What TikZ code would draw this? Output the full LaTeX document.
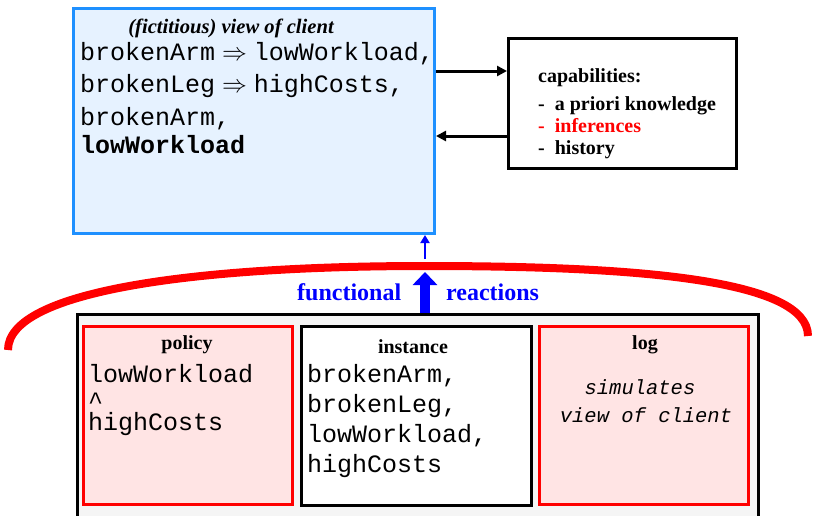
\documentclass[tikz,border=0pt]{standalone}
\usepackage{fontspec}
\setmainfont{Liberation Serif}
\setmonofont{Liberation Mono}
\usetikzlibrary{arrows.meta}
\definecolor{viewblue}{HTML}{1E90FF}
\definecolor{viewfill}{HTML}{E6F2FF}
\definecolor{pinkfill}{HTML}{FFE4E4}
\definecolor{outerfill}{HTML}{F5F5F5}
\definecolor{myred}{HTML}{FF0000}
\definecolor{myblue}{HTML}{0000FF}
\begin{document}
\begin{tikzpicture}[x=1pt,y=-1pt,
  box/.style={line width=3pt, anchor=north west, inner sep=0pt},
  mono/.style={font=\fontsize{25}{30}\selectfont\ttfamily, inner sep=0pt, anchor=base west},
  monoit/.style={font=\fontsize{20.5}{24}\selectfont\ttfamily\itshape, inner sep=0pt, anchor=base},
  head/.style={font=\fontsize{20}{22}\selectfont\bfseries, inner sep=0pt, anchor=base},
  captext/.style={font=\fontsize{20}{22}\selectfont\bfseries, inner sep=0pt, anchor=base west},
  blk/.style={line width=3pt, -{Triangle[width=10pt,length=10pt]}},
  bluebig/.style={myblue, line width=10pt, -{Triangle[width=24pt,length=13pt]}},
  bluesmall/.style={myblue, line width=2.5pt, -{Triangle[width=9pt,length=8pt]}},
  reach/.style={font=\fontsize{24}{28}\selectfont\bfseries, text=myblue, inner sep=0pt, anchor=base west}]
\clip (0,0) rectangle (815,515);
\fill[white] (0,0) rectangle (815,515);

% top: view of client
\node[box, draw=viewblue, fill=viewfill, minimum width=361, minimum height=225] (view) at (72,7) {};
\node[font=\fontsize{20.6}{22}\selectfont\bfseries\itshape, inner sep=0pt, anchor=base] (vtitle) at (231,33) {(fictitious) view of client};
\node[mono] (v1) at (80,60) {brokenArm\;$\Rightarrow$\;lowWorkload,};
\node[mono] (v2) at (80,92) {brokenLeg\;$\Rightarrow$\;highCosts,};
\node[mono] (v3) at (80,125) {brokenArm,};
\node[mono, font=\fontsize{25}{30}\selectfont\ttfamily\bfseries] (v4) at (80,153) {lowWorkload};

% capabilities
\node[box, draw=black, fill=white, minimum width=228, minimum height=130] (capbox) at (507,37) {};
\node[captext] (c0) at (538,82) {capabilities:};
\node[captext] (c1) at (538,110) {-~~a priori knowledge};
\node[captext, text=myred] (c2) at (538,132) {-~~inferences};
\node[captext] (c3) at (538,154) {-~~history};

\coordinate (r1) at (0,71);
\coordinate (r2) at (0,136);
\draw[blk] (view.east |- r1) -- (capbox.west |- r1);
\draw[blk] (capbox.west |- r2) -- (view.east |- r2);

% red arc
\draw[myred, line width=8pt] (8,350) .. controls (8,290) and (200,266) .. (425,266)
  .. controls (640,266) and (808,280) .. (808,336);

% bottom
\node[box, draw=black, fill=outerfill, minimum width=681, minimum height=230] (outer) at (76,313) {};
\node[box, draw=myred, fill=pinkfill, minimum width=209, minimum height=178] (policy) at (82,325) {};
\node[box, draw=black, fill=white, minimum width=230, minimum height=179] (inst) at (300,325) {};
\node[box, draw=myred, fill=pinkfill, minimum width=209, minimum height=178] (log) at (538,325) {};

\node[head] (ph) at (187,349) {policy};
\node[mono, font=\fontsize{25}{24}\selectfont\ttfamily, text width=190, align=left] (ptext) at (88,382)
  {lowWorkload\\[3pt]\textasciicircum\\[-3pt]highCosts};

\node[head] (ih) at (413,353) {instance};
\node[mono] (i1) at (307,382) {brokenArm,};
\node[mono] (i2) at (307,412) {brokenLeg,};
\node[mono] (i3) at (307,442) {lowWorkload,};
\node[mono] (i4) at (307,472) {highCosts};

\node[head] (lh) at (645,349) {log};
\node[monoit] (l1) at (640,394) {simulates};
\node[monoit] (l2) at (646,422) {view of client};

% blue arrows
\coordinate (ax) at (425,0);
\coordinate (bigtip) at (425,272);
\coordinate (smallbase) at (425,259);
\draw[bluebig] (outer.north -| ax) -- (bigtip);
\draw[bluesmall] (smallbase) -- (view.south -| ax);
\node[reach] (fun) at (297,300) {functional};
\node[reach] (rea) at (446,300) {reactions};
\end{tikzpicture}
\end{document}
